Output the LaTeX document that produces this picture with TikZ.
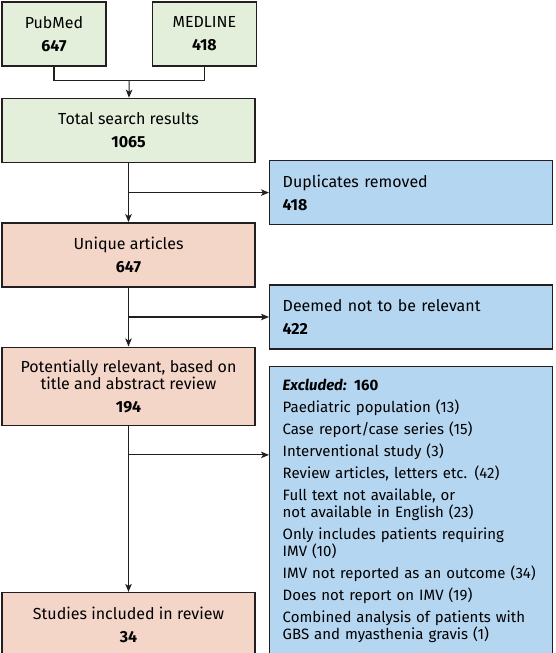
\documentclass[tikz,border=0pt]{standalone}
\usepackage{fontspec}
\setmainfont{Fira Sans}
\usetikzlibrary{arrows.meta, positioning, calc}
\definecolor{searchgreen}{RGB}{227,239,218}
\definecolor{screenpink}{RGB}{244,214,201}
\definecolor{excludeblue}{RGB}{181,214,240}
\definecolor{edgegray}{RGB}{35,31,32}

\begin{document}
\begin{tikzpicture}[
        x=1pt, y=1pt,
        font=\fontsize{16}{17}\selectfont,
        box/.style={rectangle, draw=edgegray, line width=1.4pt, minimum height=64pt, align=center, inner sep=0pt},
        source/.style={box, fill=searchgreen, minimum width=104pt},
        stage/.style={box, fill=searchgreen, minimum width=253pt},
        screen/.style={box, fill=screenpink, minimum width=253pt},
        drop/.style={box, fill=excludeblue, align=left, text width=257pt, inner xsep=13pt},
        link/.style={line width=1.1pt, edgegray},
        flow/.style={link, -{Stealth[length=8pt, width=6.5pt, inset=2pt]}}
    ]
        \useasboundingbox (0,0) rectangle (555,-653);

        \node[source] (pubmed) at (54,-34) {PubMed\\[6pt]\textbf{647}};
        \node[source, right=45pt of pubmed] (medline) {MEDLINE\\[6pt]\textbf{418}};
        \node[stage, below right=31pt and 0pt of pubmed.south west] (total) {Total search results\\[6pt]\textbf{1065}};
        \node[screen, below=59pt of total] (unique) {Unique articles\\[6pt]\textbf{647}};
        \node[screen, below=59pt of unique, minimum height=78pt] (potential) {Potentially relevant, based on\\title and abstract review\\[6pt]\textbf{194}};
        \node[screen, below=166pt of potential] (studies) {Studies included in review\\[6pt]\textbf{34}};

        \coordinate (gap1) at ($(total.south)!0.5!(unique.north)$);
        \coordinate (gap2) at ($(unique.south)!0.5!(potential.north)$);
        \coordinate (gap3) at ($(potential.south)+(0,-29)$);

        \node[drop, right=140.5pt of gap1] (dup) {Duplicates removed\\[6pt]\textbf{418}};
        \node[drop, right=140.5pt of gap2] (irrelevant) {Deemed not to be relevant\\[6pt]\textbf{422}};
        \node[drop, below right=16pt and 0pt of irrelevant.south west, minimum height=289pt, font=\fontsize{15}{17}\selectfont] (excluded) {\textbf{\textit{Excluded:}} \textbf{160}\\[5pt]
            Paediatric population (13)\\[5pt]
            Case report/case series (15)\\[5pt]
            Interventional study (3)\\[5pt]
            Review articles, letters etc. (42)\\[5pt]
            Full text not available, or\\not available in English (23)\\[5pt]
            Only includes patients requiring\\IMV (10)\\[5pt]
            IMV not reported as an outcome (34)\\[5pt]
            Does not report on IMV (19)\\[5pt]
            Combined analysis of patients with\\GBS and myasthenia gravis (1)};

        % sources merge into one search
        \coordinate (join) at ($(pubmed.south)!0.5!(medline.south)+(0,-14)$);
        \draw[link] (pubmed.south) |- (join) -| (medline.south);
        \draw[flow] (join) -- (total);

        % main trunk
        \draw[flow] (total) -- (unique);
        \draw[flow] (unique) -- (potential);
        \draw[flow] (potential) -- (studies);

        % side exits
        \draw[flow] (gap1) -- (dup);
        \draw[flow] (gap2) -- (irrelevant);
        \draw[flow] (gap3) -- (gap3 -| excluded.west);
    \end{tikzpicture}
\end{document}
